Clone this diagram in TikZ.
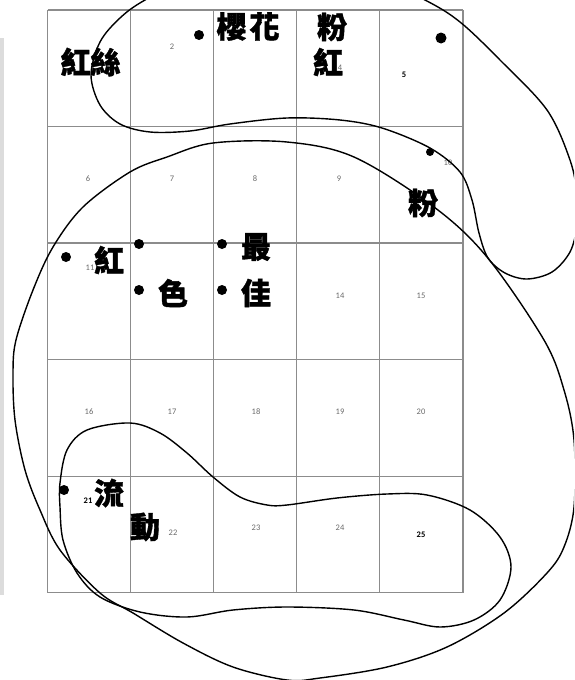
\documentclass[tikz,border=0pt]{standalone}
\usepackage{fontspec}
\newfontfamily\cjk{Noto Sans CJK TC}[BoldFeatures={FakeBold=1.2}]
\newfontfamily\numf{Carlito}
\definecolor{gridgrey}{HTML}{8C8C8C}
\definecolor{numgrey}{HTML}{6A6A6A}
\definecolor{stripgrey}{HTML}{DCDCDC}
\begin{document}
\begin{tikzpicture}[x=1pt,y=-1pt,
  gridline/.style={draw=gridgrey, line width=1.1pt},
  num/.style={font=\numf\fontsize{8.5}{8.5}\selectfont, text=numgrey, inner sep=0pt},
  bnum/.style={font=\numf\bfseries\fontsize{8.5}{8.5}\selectfont, text=black, inner sep=0pt},
  zh/.style={font=\cjk\bfseries\fontsize{30}{30}\selectfont, inner sep=0pt},
  loopline/.style={draw=black, line width=1.4pt},
  dotmark/.style={circle, fill=black, inner sep=0pt, minimum size=#1}]
\useasboundingbox (0,0) rectangle (574,680);
\clip (0,0) rectangle (574,680);
\fill[stripgrey] (0,38) rectangle (4,595);
% grid
\foreach \x in {47.5,130.6,213.7,296.8,379.9,463} \draw[gridline] (\x,10) -- (\x,592.7);
\foreach \y in {10,126.5,243,359.6,476.2,592.7} \draw[gridline] (47.5,\y) -- (463,\y);
% numbers
\node[num] (n2) at (172,47) {2};
\node[num] (n3) at (257,35) {3};
\node[num] (n4) at (340,68) {4};
\node[bnum] (n5) at (404,75) {5};
\node[num] (n6) at (88,179) {6};
\node[num] (n7) at (172,179) {7};
\node[num] (n8) at (255,179) {8};
\node[num] (n9) at (339,179) {9};
\node[num] (n10) at (448,163) {10};
\node[num] (n11) at (90,268) {11};
\node[num] (n14) at (340,296) {14};
\node[num] (n15) at (421,296) {15};
\node[num] (n16) at (89,412) {16};
\node[num] (n17) at (172,412) {17};
\node[num] (n18) at (256,412) {18};
\node[num] (n19) at (340,412) {19};
\node[num] (n20) at (421,412) {20};
\node[bnum] (n21) at (88,501) {21};
\node[num] (n22) at (173,533) {22};
\node[num] (n23) at (256,528) {23};
\node[num] (n24) at (340,528) {24};
\node[bnum] (n25) at (421,535) {25};
% words
\node[zh] (w1) at (90.5,62) {紅絲};
\node[zh] (w2) at (248,26.5) {櫻\hspace{3pt}花};
\node[zh] (w3) at (332,27) {粉};
\node[zh] (w4) at (328,62) {紅};
\node[zh] (w5) at (423,203) {粉};
\node[zh] (w6) at (109,260) {紅};
\node[zh] (w7) at (173,293) {色};
\node[zh] (w8) at (256,247) {最};
\node[zh] (w9) at (256,293) {佳};
\node[zh] (w10) at (109,493) {流};
\node[zh] (w11) at (145,527) {動};
% loops
\draw[loopline] plot[smooth cycle, tension=0.55] coordinates {
 (145,0) (120,18) (100,42) (91,75) (100,105) (120,124) (150,132) (190,131) (230,124) (287,118)
 (340,120) (382,128) (430,148) (460,172) (472,200) (479,233) (488,258) (505,273) (527,279)
 (552,272) (570,252) (577,225) (577,195) (570,160) (547,110) (500,60) (460,22) (425,0)
 (360,-30) (280,-40) (200,-28)};
\draw[loopline] plot[smooth cycle, tension=0.55] coordinates {
 (16,340) (33,290) (53,247) (83,207) (130,172) (167,157) (213,143) (287,142) (354,157)
 (434,207) (487,257) (544,340) (564,390) (574,440) (574,507) (564,547) (547,573) (504,613)
 (447,647) (387,667) (320,678) (287,680) (233,667) (183,643) (133,613) (100,593) (60,550)
 (40,510) (25,470) (15,420) (13,373)};
\draw[loopline] plot[smooth cycle, tension=0.55] coordinates {
 (60,483) (67,450) (87,430) (130,423) (160,433) (187,453) (213,477) (240,497) (267,505)
 (287,505) (337,498) (387,494) (427,495) (470,510) (500,537) (511,567) (500,600) (474,620)
 (440,627) (404,620) (354,610) (287,607) (233,610) (187,617) (140,612) (100,597) (77,573)
 (63,540) (60,507)};
% dots
\node[dotmark=10pt] (d1) at (199,35) {};
\node[dotmark=11pt] (d2) at (441,38) {};
\node[dotmark=8pt] (d3) at (430,152) {};
\node[dotmark=10pt] (d4) at (66,257) {};
\node[dotmark=10pt] (d5) at (139,244) {};
\node[dotmark=10pt] (d6) at (139,290) {};
\node[dotmark=10pt] (d7) at (222,244) {};
\node[dotmark=10pt] (d8) at (222,290) {};
\node[dotmark=10pt] (d9) at (64,490) {};
\end{tikzpicture}
\end{document}
